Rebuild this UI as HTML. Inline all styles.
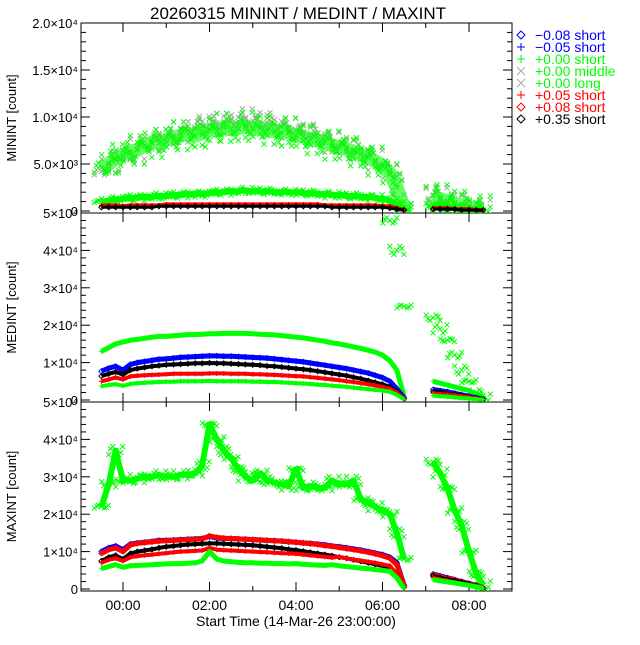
<!DOCTYPE html>
<html><head><meta charset="utf-8">
<style>
html,body{margin:0;padding:0;background:#fff;}
svg text{font-family:"Liberation Sans","DejaVu Sans",sans-serif;}
</style></head>
<body>
<svg id="chart" width="640" height="640" viewBox="0 0 640 640" xmlns="http://www.w3.org/2000/svg">
<rect x="0" y="0" width="640" height="640" fill="#fff"/>
<text x="298" y="19" font-size="17" text-anchor="middle">20260315 MININT / MEDINT / MAXINT</text>
<text x="296" y="626" font-size="14" text-anchor="middle">Start Time (14-Mar-26 23:00:00)</text>
<g id="plots"></g>
<g id="legend"></g>
</svg>
<script>
// time categories (hours relative to 00:00 of 15-Mar)
const times = [-0.5,-0.33,-0.17,0,0.17,0.33,0.5,0.67,0.83,1,1.17,1.33,1.5,1.67,1.83,2,2.17,2.33,2.5,2.67,2.83,3,3.17,3.33,3.5,3.67,3.83,4,4.17,4.33,4.5,4.67,4.83,5,5.17,5.33,5.5,5.67,5.83,6,6.17,6.33,6.5,7.17,7.33,7.5,7.67,7.83,8,8.17,8.33];
const xTickLabels = ["00:00","02:00","04:00","06:00","08:00"];
const xTickHours = [0,2,4,6,8];
// values in thousands of counts
// MININT
const minGray = [4.2,4.8,5.4,5.8,6.2,6.6,6.9,7.2,7.6,7.9,8.0,8.4,8.6,8.8,9.0,9.2,9.4,9.3,9.6,9.5,9.8,9.6,9.5,9.4,9.2,9.0,8.8,8.6,8.4,8.2,7.9,7.6,7.3,7.0,6.8,6.5,6.2,5.8,5.4,5.0,4.2,2.8,0.4,1.7,1.4,1.1,0.9,0.7,0.5,0.3,0.1];
const minGreenLong = [4.6,5.0,5.6,6.0,6.3,6.5,7.0,7.3,7.2,7.6,7.8,8.0,8.2,8.0,8.3,8.6,8.5,8.9,8.7,8.8,9.0,8.7,8.9,8.6,8.5,8.3,8.4,8.0,7.9,7.6,7.5,7.3,7.0,6.8,6.6,6.3,6.0,5.7,5.3,4.8,4.0,2.5,0.3,1.6,1.3,1.0,0.8,0.6,0.4,0.2,0.1];
const minGreenMid = [1.0,1.1,1.2,1.3,1.4,1.4,1.5,1.5,1.6,1.6,1.7,1.7,1.8,1.8,1.8,1.9,2.0,2.0,2.1,2.1,2.2,2.1,2.1,2.1,2.0,2.0,2.0,2.0,1.9,1.9,1.8,1.8,1.7,1.7,1.6,1.6,1.5,1.5,1.4,1.3,1.1,0.7,0.3,0.6,0.5,0.4,0.3,0.3,0.2,0.15,0.1];
const minRed = [0.6,0.6,0.6,0.5,0.6,0.6,0.6,0.6,0.6,0.7,0.7,0.7,0.7,0.7,0.7,0.7,0.7,0.7,0.7,0.7,0.7,0.7,0.7,0.7,0.7,0.7,0.7,0.7,0.7,0.7,0.7,0.6,0.6,0.6,0.6,0.6,0.6,0.6,0.6,0.5,0.5,0.3,0.1,0.3,0.3,0.3,0.2,0.2,0.2,0.1,0.1];
const minBlack = [0.4,0.4,0.4,0.4,0.4,0.4,0.4,0.4,0.5,0.5,0.5,0.5,0.5,0.5,0.5,0.5,0.5,0.5,0.5,0.5,0.5,0.5,0.5,0.5,0.5,0.5,0.5,0.5,0.5,0.5,0.5,0.5,0.4,0.4,0.4,0.4,0.4,0.4,0.4,0.4,0.3,0.2,0.1,0.2,0.2,0.2,0.2,0.1,0.1,0.1,0.1];
// MEDINT
const medGreenX = [60,60,60,60,60,60,60,60,60,60,60,60,60,60,60,60,60,60,60,60,60,60,60,60,60,60,60,60,60,60,60,60,60,60,60,60,60,60,60,60,48,40,25,22,19,16,12,8,5,2,0.5];
const medGreenPlus = [13,14,15,15.5,16,16.2,16.5,16.8,17,17,17.2,17.3,17.5,17.5,17.6,17.7,17.7,17.8,17.8,17.8,17.8,17.7,17.6,17.5,17.4,17.2,17,16.8,16.6,16.3,16,15.7,15.3,15,14.6,14.2,13.8,13.3,12.8,12,10.5,8,1,5,4.5,4,3.5,3,2.5,1.5,0.5];
const medBlue = [7.7,8.5,9,8,9.5,10,10.3,10.6,10.9,11,11.2,11.4,11.5,11.6,11.7,11.8,11.8,11.7,11.7,11.6,11.5,11.4,11.3,11.2,11,10.8,10.6,10.4,10.2,9.9,9.6,9.3,9,8.7,8.4,8,7.6,7.2,6.6,6,5,3,0.5,2.8,2.5,2.2,1.8,1.4,1,0.6,0.2];
const medBlack = [6.4,7,7.5,6.8,8,8.4,8.7,9,9.2,9.4,9.5,9.6,9.7,9.8,9.8,9.9,9.8,9.8,9.7,9.6,9.5,9.4,9.3,9.1,9,8.8,8.6,8.4,8.2,8,7.7,7.4,7.1,6.8,6.5,6.1,5.7,5.2,4.7,4.2,3.5,2.2,0.3,2.2,2,1.8,1.5,1.2,0.8,0.5,0.2];
const medRed = [5,5.5,6,5.5,6.3,6.5,6.6,6.7,6.8,6.9,7,7,7,7,7,7.1,7.1,7.1,7,7,7,6.9,6.9,6.8,6.7,6.6,6.5,6.4,6.3,6.1,5.9,5.7,5.5,5.3,5,4.8,4.5,4.2,3.9,3.5,3,2,0.3,1.8,1.6,1.4,1.2,1,0.7,0.4,0.1];
const medGreenLow = [3.7,4,4.2,3.8,4.3,4.5,4.6,4.7,4.8,4.9,4.9,5,5,5,5,5.1,5,5,5,5,5,4.9,4.9,4.8,4.8,4.7,4.6,4.5,4.4,4.3,4.1,4,3.8,3.7,3.5,3.3,3.1,2.9,2.7,2.5,2.2,1.4,0.2,1.2,1,0.9,0.7,0.5,0.4,0.2,0.1];
// MAXINT
const maxGreenX = [22,28,37,29,29,29.5,30,30,30.5,30,30,30.5,30.5,31,33,44,40,37,35,32,30,29,31,29,28.5,28,27.5,32,27,27.5,27,27,29,28,28,29,24,23,22,21,20,15,8,34,31,27,21,17,10,4,1];
const maxBlue = [10,11,11.5,10.5,12,12.3,12.5,12.7,13,13,13.1,13.2,13.3,13.4,13.5,14,13.6,13.5,13.5,13.4,13.3,13.2,13.1,13,12.9,12.8,12.6,12.5,12.3,12.2,12,11.8,11.5,11.3,11,10.7,10.4,10,9.6,9.2,8.5,7,1,4,3.5,3,2.5,2,1.5,1,0.3];
const maxRedD = [9.5,10.5,11,10,11.8,12.2,12.4,12.6,12.8,12.9,13,13.1,13.2,13.3,13.4,14.2,13.8,13.6,13.5,13.4,13.3,13.2,13.1,13,12.9,12.8,12.7,12.5,12.3,12.1,11.9,11.6,11.4,11.1,10.8,10.5,10.2,9.8,9.4,8.9,8.2,6.5,1,3.8,3.3,2.8,2.4,1.9,1.4,0.9,0.3];
const maxBlack = [7.5,8.5,9,8,9.5,10,10.3,10.6,11,11.3,11.5,11.7,11.9,12,12.1,12.2,12.2,12.1,12,11.9,11.8,11.7,11.5,11.3,11.1,10.9,10.6,10.4,10.1,9.8,9.5,9.2,8.9,8.5,8.2,7.8,7.4,7,6.6,6.2,5.5,4,0.5,3.5,3,2.6,2.2,1.8,1.3,0.8,0.2];
const maxRedPlus = [7,7.8,8.2,7.5,8.5,8.8,9,9.2,9.4,9.6,9.8,10,10.1,10.2,10.3,11,10.5,10.4,10.3,10.2,10.1,10,9.9,9.8,9.7,9.6,9.5,9.4,9.2,9,8.8,8.6,8.4,8.6,8.2,7.9,7.6,7.3,7,6.6,6.2,4,0.5,3,2.6,2.2,1.8,1.4,1,0.6,0.2];
const maxGreenPlus = [5.5,6,6.5,5.8,6.2,6.3,6.4,6.5,6.6,6.7,6.8,6.8,6.9,7,7.5,10,8,7.5,7.3,7.1,7,7,6.9,6.9,6.8,6.8,6.7,6.8,6.6,6.5,6.4,6.3,6.5,6.2,6,5.8,5.6,5.4,5.2,5,4.7,3,0.2,2.5,2.2,1.9,1.6,1.3,1,0.6,0.2];

const NS='http://www.w3.org/2000/svg';
const plots=document.getElementById('plots');
const X0=81, X1=512;
function xScale(t){ return 123 + t*43.25; }
const panels=[
 {name:'minint',top:23,bottom:213,max:20,title:'MININT [count]',ticks:[0,5,10,15,20],labels:['0','5.0×10³','1.0×10⁴','1.5×10⁴','2.0×10⁴']},
 {name:'medint',top:213,bottom:402,max:50,title:'MEDINT [count]',ticks:[0,10,20,30,40,50],labels:['0','1×10⁴','2×10⁴','3×10⁴','4×10⁴','5×10⁴']},
 {name:'maxint',top:402,bottom:591,max:50,title:'MAXINT [count]',ticks:[0,10,20,30,40,50],labels:['0','1×10⁴','2×10⁴','3×10⁴','4×10⁴','5×10⁴']}
];
function yScaleFor(p){ const y0=p.bottom-2, h=y0-p.top; return v=>y0 - v/p.max*h; }
function mk(tag,attrs){ const e=document.createElementNS(NS,tag); for(const k in attrs) e.setAttribute(k,attrs[k]); return e; }

function marker(g,type,x,y,color,s){
  let e;
  if(type==='x') e=mk('path',{d:`M${x-s} ${y-s}L${x+s} ${y+s}M${x-s} ${y+s}L${x+s} ${y-s}`,stroke:color,'stroke-width':1,fill:'none'});
  else if(type==='+') e=mk('path',{d:`M${x-s} ${y}L${x+s} ${y}M${x} ${y-s}L${x} ${y+s}`,stroke:color,'stroke-width':1,fill:'none'});
  else e=mk('path',{d:`M${x} ${y-s}L${x+s} ${y}L${x} ${y+s}L${x-s} ${y}Z`,stroke:color,'stroke-width':1,fill:'none'});
  
  
  g.appendChild(e);
}
const cloudOffsets=[[-7,-1],[7,1],[-3,1],[3,-1],[-5,0.5],[5,-0.5]];
function series(p,vals,type,color,band,name,spread,op){
  const ys=yScaleFor(p);
  const g=mk('g',{});
  
  
  g.setAttribute('clip-path','url(#clip-'+p.name+')');
  const segs=[[0,43],[43,times.length]];
  if(band>0){
    segs.forEach(([a,b])=>{
      let d='';
      for(let i=a;i<b;i++){ d+=(i===a?'M':'L')+xScale(times[i]).toFixed(1)+' '+ys(vals[i]).toFixed(1); }
      const pl=mk('path',{d:d,stroke:color,'stroke-width':band,fill:'none','stroke-opacity':op===undefined?1:op,'stroke-linejoin':'round','stroke-linecap':'butt'});
      
      
      g.appendChild(pl);
    });
  }
  for(let i=0;i<times.length;i++){
    const x=xScale(times[i]), y=ys(vals[i]);
    marker(g,type,x,y,color,2.5);
    if(spread){
      cloudOffsets.forEach(([dx,f])=>{
        const yy=y+f*spread*(i%2?1:-1)*((i%3)+1)/3;
        marker(g,type,x+dx,yy,color,2.5);
      });
    }
  }
  plots.appendChild(g);
}

panels.forEach(p=>{
  const defs=mk('defs',{});
  const cp=mk('clipPath',{id:'clip-'+p.name});
  cp.appendChild(mk('rect',{x:X0,y:p.top,width:X1-X0,height:p.bottom-p.top}));
  defs.appendChild(cp); plots.appendChild(defs);
  const ys=yScaleFor(p);
  const frame=mk('rect',{x:X0,y:p.top,width:X1-X0,height:p.bottom-p.top,fill:'none',stroke:'#000','stroke-width':1});
  
  
  plots.appendChild(frame);
  const step=(p.ticks[1]-p.ticks[0])/5;
  for(let v=0; v<=p.max+1e-6; v+=step){
    const y=ys(v); const major=p.ticks.some(t=>Math.abs(t-v)<1e-6);
    const L=major?9:5;
    plots.appendChild(mk('line',{x1:X0,y1:y,x2:X0+L,y2:y,stroke:'#000'}));
    plots.appendChild(mk('line',{x1:X1,y1:y,x2:X1-L,y2:y,stroke:'#000'}));
  }
  p.ticks.forEach((t,i)=>{
    const tx=mk('text',{x:X0-3,y:ys(t)+5,'font-size':13,'text-anchor':'end'});
    tx.textContent=p.labels[i];
    
    
    plots.appendChild(tx);
  });
  for(let h=-1; h<=9; h++){
    const x=xScale(h); if(x<X0||x>X1) continue;
    const L=h%2===0?9:5;
    plots.appendChild(mk('line',{x1:x,y1:p.bottom,x2:x,y2:p.bottom-L,stroke:'#000'}));
    plots.appendChild(mk('line',{x1:x,y1:p.top,x2:x,y2:p.top+L,stroke:'#000'}));
  }
  const yt=mk('text',{x:0,y:0,'font-size':13,'text-anchor':'middle',transform:`translate(16 ${(p.top+p.bottom)/2}) rotate(-90)`});
  yt.textContent=p.title;
  
  
  plots.appendChild(yt);
});
xTickHours.forEach((h,i)=>{
  const tx=mk('text',{x:xScale(h),y:610,'font-size':14,'text-anchor':'middle'});
  tx.textContent=xTickLabels[i];
  
  
  plots.appendChild(tx);
});

const P1=panels[0],P2=panels[1],P3=panels[2];
series(P1,minGray,'x','#a8a8a8',0,'minint-gray-x',10);
series(P1,minGreenLong,'x','#00ff00',14,'minint-green-long',14,0.6);
series(P1,minGreenMid,'x','#00ff00',6,'minint-green-middle',3);
series(P1,minRed,'+','#ff0000',4,'minint-red-plus',0);
series(P1,minBlack,'d','#000000',3,'minint-black-diamond',0);

series(P2,medGreenX,'x','#00ff00',0,'medint-green-x',4);
series(P2,medGreenPlus,'+','#00ff00',5,'medint-green-plus',0);
series(P2,medBlue,'d','#0000ff',5,'medint-blue-diamond',0);
series(P2,medBlack,'d','#000000',4,'medint-black-diamond',0);
series(P2,medRed,'+','#ff0000',4,'medint-red-plus',0);
series(P2,medGreenLow,'+','#00ff00',4,'medint-green-low',0);

series(P3,maxGreenX,'x','#00ff00',6,'maxint-green-x',4,1);
series(P3,maxBlue,'d','#0000ff',5,'maxint-blue-diamond',0);
series(P3,maxRedD,'d','#ff0000',5,'maxint-red-diamond',0);
series(P3,maxBlack,'d','#000000',4,'maxint-black-diamond',0);
series(P3,maxRedPlus,'+','#ff0000',4,'maxint-red-plus',0);
series(P3,maxGreenPlus,'+','#00ff00',5,'maxint-green-plus',0);

// legend
const legendTypes=['d','+','+','x','x','+','d','d'];
const legendColors=['#0000ff','#0000ff','#00ff00','#00ff00','#00ff00','#ff0000','#ff0000','#000000'];
const legendMarkColors=['#0000ff','#0000ff','#00ff00','#a8a8a8','#a8a8a8','#ff0000','#ff0000','#000000'];
const legendLabels=['−0.08 short','−0.05 short','+0.00 short','+0.00 middle','+0.00 long','+0.05 short','+0.08 short','+0.35 short'];
const lg=document.getElementById('legend');
legendLabels.forEach((lab,i)=>{
  const y=35+i*12;
  const g=mk('g',{});
  
  
  const tmp=mk('g',{}); marker(tmp,legendTypes[i],521,y,legendMarkColors[i],4);
  g.appendChild(tmp.firstChild);
  const t=mk('text',{x:535,y:y+5,'font-size':14,fill:legendColors[i]});
  t.textContent=lab;
  g.appendChild(t);
  lg.appendChild(g);
});
</script>
</body></html>
